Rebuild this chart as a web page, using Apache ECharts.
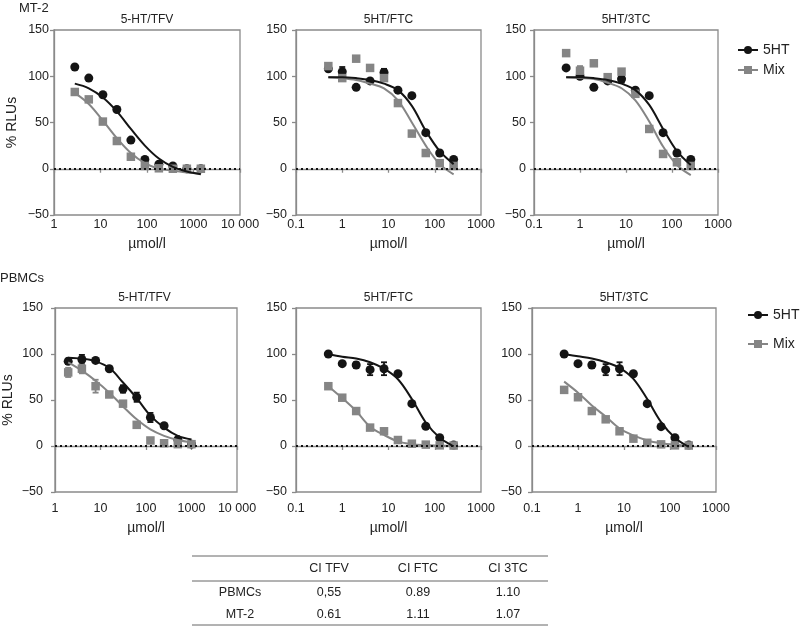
<!DOCTYPE html>
<html>
<head>
<meta charset="utf-8">
<script src="https://cdn.jsdelivr.net/npm/echarts@6/dist/echarts.min.js"></script>
<style>
html,body{margin:0;padding:0;background:#fff}
#main{width:800px;height:626px}
</style>
</head>
<body>
<div id="main"></div>
<script>
// concentrations, µmol/l
const concMt2Tfv = [2.8, 5.6, 11.25, 22.5, 45, 90, 180, 360, 720, 1440];
const concPbmcTfv = [1.95, 3.9, 7.8, 15.6, 31.25, 62.5, 125, 250, 500, 1000];
const concNrti = [0.5, 1, 2, 4, 8, 16, 32, 64, 128, 256];

// MT-2, 5-HT/TFV
const mt2TfvHt = [110, 98, 80, 64, 31, 10, 5, 3, 0, 0];
const mt2TfvMix = [83, 75, 51, 30, 13, 3, 0.5, 0, 0, 0];
const mt2TfvFitHt = [92, 87, 77, 62, 43, 25, 11, 2, -3, -6];
const mt2TfvFitMix = [82, 70, 52, 33, 17, 6, 0, -2, -4, -5];
// MT-2, 5HT/FTC
const mt2FtcHt = [108, 105, 88, 95, 104, 85, 79, 39, 17, 10];
const mt2FtcMix = [111, 98, 119, 109, 98, 71, 38, 17, 6, 3];
const mt2FtcFitHt = [99, 99, 98, 96, 92, 85, 68, 41, 19, 5];
const mt2FtcFitMix = [99, 98, 96, 92, 87, 74, 50, 25, 5, -6];
const mt2FtcErrHt = [0, 5, 0, 0, 4, 0, 0, 0, 0, 0];
// MT-2, 5HT/3TC
const mt2TtcHt = [109, 100, 88, 95, 97, 85, 79, 39, 17, 10];
const mt2TtcMix = [125, 106, 114, 99, 105, 81, 43, 16, 7, 3];
const mt2TtcFitHt = [99, 99, 98, 96, 92, 85, 69, 43, 19, 4];
const mt2TtcFitMix = [99, 98, 97, 93, 87, 74, 51, 24, 4, -7];
const mt2TtcErrHt = [0, 0, 0, 0, 4, 0, 0, 0, 0, 0];
const mt2TtcErrMix = [0, 5, 0, 0, 0, 0, 0, 0, 0, 0];

// PBMCs, 5-HT/TFV
const pbTfvHt = [92, 94, 93, 84, 62, 53, 31, 22, 7, 2];
const pbTfvMix = [80, 84, 65, 56, 46, 23, 6, 3, 2, 2];
const pbTfvFitHt = [96, 95, 92, 85, 69, 52, 33, 20, 11, 7];
const pbTfvFitMix = [91, 82, 71, 58, 43, 29, 18, 11, 6.5, 4];
const pbTfvErrHt = [3, 5, 0, 0, 4, 5, 5, 0, 0, 0];
const pbTfvErrMix = [5, 5, 7, 0, 0, 0, 0, 0, 0, 0];
// PBMCs, 5HT/FTC
const pbFtcHt = [100, 89.5, 88, 83, 84, 78.5, 46, 21.5, 9, 1];
const pbFtcMix = [65, 52.5, 38, 20, 16, 6.5, 2.5, 1.5, 0.7, 0.5];
const pbFtcFitHt = [100, 97, 95, 91, 84, 72.5, 51, 25.5, 9, -0.5];
const pbFtcFitMix = [65, 52, 38, 21, 12, 5, 2, 1, 0.5, 0];
const pbFtcErrHt = [0, 0, 3, 6, 7, 0, 0, 0, 0, 0];
// PBMCs, 5HT/3TC
const pbTtcHt = [100, 89.5, 88, 83, 84, 78.5, 46, 21, 9, 1];
const pbTtcMix = [61, 53, 38, 29, 16, 8, 3.5, 1.8, 0.7, 0.5];
const pbTtcFitHt = [100, 97.5, 95, 91, 85, 73, 51, 26, 9, -1];
const pbTtcFitMix = [70, 58, 44, 32, 19, 11.5, 6, 3, 1.4, 0.5];
const pbTtcErrHt = [0, 0, 3, 6, 7, 0, 0, 0, 0, 0];

// combination index table
const tableHead = ['CI TFV', 'CI FTC', 'CI 3TC'];
const tableRows = ['PBMCs', 'MT-2'];
const ciPbmc = ['0,55', '0.89', '1.10'];
const ciMt2 = ['0.61', '1.11', '1.07'];

const yTicks = [-50, 0, 50, 100, 150];
const panelTitles = ['5-HT/TFV', '5HT/FTC', '5HT/3TC', '5-HT/TFV', '5HT/FTC', '5HT/3TC'];

const panels = [
  {conc: concMt2Tfv, ht: mt2TfvHt, mix: mt2TfvMix, fitHt: mt2TfvFitHt, fitMix: mt2TfvFitMix, xmin: 1, xmax: 10000},
  {conc: concNrti, ht: mt2FtcHt, mix: mt2FtcMix, fitHt: mt2FtcFitHt, fitMix: mt2FtcFitMix, errHt: mt2FtcErrHt, xmin: 0.1, xmax: 1000},
  {conc: concNrti, ht: mt2TtcHt, mix: mt2TtcMix, fitHt: mt2TtcFitHt, fitMix: mt2TtcFitMix, errHt: mt2TtcErrHt, errMix: mt2TtcErrMix, xmin: 0.1, xmax: 1000},
  {conc: concPbmcTfv, ht: pbTfvHt, mix: pbTfvMix, fitHt: pbTfvFitHt, fitMix: pbTfvFitMix, errHt: pbTfvErrHt, errMix: pbTfvErrMix, xmin: 1, xmax: 10000},
  {conc: concNrti, ht: pbFtcHt, mix: pbFtcMix, fitHt: pbFtcFitHt, fitMix: pbFtcFitMix, errHt: pbFtcErrHt, xmin: 0.1, xmax: 1000},
  {conc: concNrti, ht: pbTtcHt, mix: pbTtcMix, fitHt: pbTtcFitHt, fitMix: pbTtcFitMix, errHt: pbTtcErrHt, xmin: 0.1, xmax: 1000}
];

// layout of the six plots
const boxes = [
  {left: 54, top: 30, width: 186, height: 185, ylm: 5, xlm: 3, xng: 22, yng: 35},
  {left: 296, top: 30, width: 185, height: 185, ylm: 9, xlm: 3, xng: 22},
  {left: 534, top: 30, width: 184, height: 185, ylm: 8, xlm: 3, xng: 22},
  {left: 52, top: 308, width: 185, height: 184, ylm: 12, xlm: 10, xng: 29, yng: 40},
  {left: 296, top: 308, width: 185, height: 184, ylm: 9, xlm: 10, xng: 29},
  {left: 532, top: 308, width: 184, height: 184, ylm: 10, xlm: 10, xng: 29}
];

const FONT = 'Liberation Sans';
const AXIS = '#8a8a8a';
const TXT = '#222';
const BLACK = '#141414';
const GRAY = '#858585';
const DOT = 9;

function pairs(xs, ys) {
  return xs.map((x, k) => [x, ys[k]]);
}
function errPairs(xs, ys, err) {
  if (!err) return [];
  let out = [];
  for (let k = 0; k < xs.length; k++) {
    if (err[k] > 0) out.push([xs[k], ys[k] - err[k], ys[k] + err[k]]);
  }
  return out;
}
function fmtLog(v) {
  if (v >= 9999) return '10 000';
  return String(parseFloat(v.toPrecision(6)));
}
function renderErr(params, api) {
  let x = api.value(0);
  let a = api.coord([x, api.value(2)]);
  let b = api.coord([x, api.value(1)]);
  let style = {stroke: api.visual('color'), lineWidth: 1.8};
  let w = 3;
  return {type: 'group', children: [
    {type: 'line', shape: {x1: a[0], y1: a[1], x2: b[0], y2: b[1]}, style: style},
    {type: 'line', shape: {x1: a[0] - w, y1: a[1], x2: a[0] + w, y2: a[1]}, style: style},
    {type: 'line', shape: {x1: b[0] - w, y1: b[1], x2: b[0] + w, y2: b[1]}, style: style}
  ]};
}

let grid = [], xAxis = [], yAxis = [], series = [], graphic = [];

panels.forEach(function (p, i) {
  let b = boxes[i];
  grid.push({left: b.left, top: b.top, width: b.width, height: b.height,
    show: true, borderColor: AXIS, borderWidth: 1.3, backgroundColor: 'transparent'});
  xAxis.push({
    gridIndex: i, type: 'log', logBase: 10, min: p.xmin, max: p.xmax,
    name: 'µmol/l', nameLocation: 'middle', nameGap: b.xng,
    nameTextStyle: {fontFamily: FONT, fontSize: 14, color: TXT},
    axisLine: {show: true, lineStyle: {color: AXIS, width: 1.3}},
    axisTick: {show: true, inside: false, length: 4, lineStyle: {color: AXIS, width: 1.3}},
    minorTick: {show: false},
    splitLine: {show: false},
    axisLabel: {margin: b.xlm, fontFamily: FONT, fontSize: 12.5, color: TXT, formatter: fmtLog, showMinLabel: true, showMaxLabel: true}
  });
  yAxis.push({
    gridIndex: i, type: 'value', min: yTicks[0], max: yTicks[yTicks.length - 1], interval: 50,
    name: b.yng ? '% RLUs' : '', nameLocation: 'middle', nameGap: b.yng || 0, nameRotate: 90,
    nameTextStyle: {fontFamily: FONT, fontSize: 14, color: TXT},
    axisLine: {show: true, lineStyle: {color: AXIS, width: 1.3}},
    axisTick: {show: true, inside: false, length: 4, lineStyle: {color: AXIS, width: 1.3}},
    splitLine: {show: false},
    axisLabel: {margin: b.ylm, fontFamily: FONT, fontSize: 12.5, color: TXT,
      formatter: function (v) { return v < 0 ? '\u221250' : String(v); }}
  });

  // dotted zero line
  series.push({
    type: 'line', xAxisIndex: i, yAxisIndex: i, data: [], silent: true,
    markLine: {silent: true, symbol: 'none', label: {show: false},
      lineStyle: {color: '#111', type: [2, 3], width: 2}, data: [{yAxis: 0}]}
  });
  // fitted curves
  series.push({
    name: 'Mix', type: 'line', xAxisIndex: i, yAxisIndex: i, smooth: 0.35,
    symbol: 'rect', symbolSize: DOT, showSymbol: false, silent: true,
    itemStyle: {color: GRAY}, lineStyle: {color: GRAY, width: 2},
    data: pairs(p.conc, p.fitMix)
  });
  series.push({
    name: '5HT', type: 'line', xAxisIndex: i, yAxisIndex: i, smooth: 0.35,
    symbol: 'circle', symbolSize: DOT, showSymbol: false, silent: true,
    itemStyle: {color: BLACK}, lineStyle: {color: BLACK, width: 2},
    data: pairs(p.conc, p.fitHt)
  });
  // error bars
  series.push({
    type: 'custom', xAxisIndex: i, yAxisIndex: i, renderItem: renderErr,
    itemStyle: {color: BLACK}, encode: {x: 0, y: [1, 2]}, silent: true,
    data: errPairs(p.conc, p.ht, p.errHt)
  });
  series.push({
    type: 'custom', xAxisIndex: i, yAxisIndex: i, renderItem: renderErr,
    itemStyle: {color: GRAY}, encode: {x: 0, y: [1, 2]}, silent: true,
    data: errPairs(p.conc, p.mix, p.errMix)
  });
  // points
  series.push({
    name: '5HT', type: 'scatter', xAxisIndex: i, yAxisIndex: i,
    symbol: 'circle', symbolSize: DOT, itemStyle: {color: BLACK, opacity: 1},
    data: pairs(p.conc, p.ht)
  });
  series.push({
    name: 'Mix', type: 'scatter', xAxisIndex: i, yAxisIndex: i,
    symbol: 'rect', symbolSize: DOT - 0.5, itemStyle: {color: GRAY, opacity: 1},
    data: pairs(p.conc, p.mix)
  });

  graphic.push({type: 'text', x: b.left + b.width / 2, y: b.top - 10,
    style: {text: panelTitles[i], fill: TXT, font: '12px ' + FONT, align: 'center', verticalAlign: 'middle'}});
});

// row labels
graphic.push({type: 'text', x: 19, y: 8, style: {text: 'MT-2', fill: TXT, font: '13px ' + FONT, verticalAlign: 'middle'}});
graphic.push({type: 'text', x: 0, y: 278, style: {text: 'PBMCs', fill: TXT, font: '13px ' + FONT, verticalAlign: 'middle'}});

// table
const colX = [240, 329, 418, 508];
const rowY = [593, 615];
const ruleYs = [556, 581, 625];
ruleYs.forEach(function (y) {
  graphic.push({type: 'line', shape: {x1: 192, y1: y, x2: 548, y2: y}, style: {stroke: '#666', lineWidth: 1}});
});
tableHead.forEach(function (t, k) {
  graphic.push({type: 'text', x: colX[k + 1], y: 569, style: {text: t, fill: TXT, font: '12.5px ' + FONT, align: 'center', verticalAlign: 'middle'}});
});
[ciPbmc, ciMt2].forEach(function (row, r) {
  graphic.push({type: 'text', x: colX[0], y: rowY[r], style: {text: tableRows[r], fill: TXT, font: '12.5px ' + FONT, align: 'center', verticalAlign: 'middle'}});
  row.forEach(function (v, k) {
    graphic.push({type: 'text', x: colX[k + 1], y: rowY[r], style: {text: v, fill: TXT, font: '12.5px ' + FONT, align: 'center', verticalAlign: 'middle'}});
  });
});

const legendBase = {
  data: ['5HT', 'Mix'], orient: 'vertical', selectedMode: false,
  itemWidth: 20, itemHeight: 10,
  textStyle: {fontFamily: FONT, fontSize: 14, color: TXT}
};

let chart = echarts.init(document.getElementById('main'));
chart.setOption({
  animation: false,
  backgroundColor: '#fff',
  grid: grid,
  xAxis: xAxis,
  yAxis: yAxis,
  legend: [
    Object.assign({}, legendBase, {left: 732, top: 38, itemGap: 6}),
    Object.assign({}, legendBase, {left: 742, top: 303, itemGap: 15})
  ],
  series: series,
  graphic: graphic
});
</script>
</body>
</html>
